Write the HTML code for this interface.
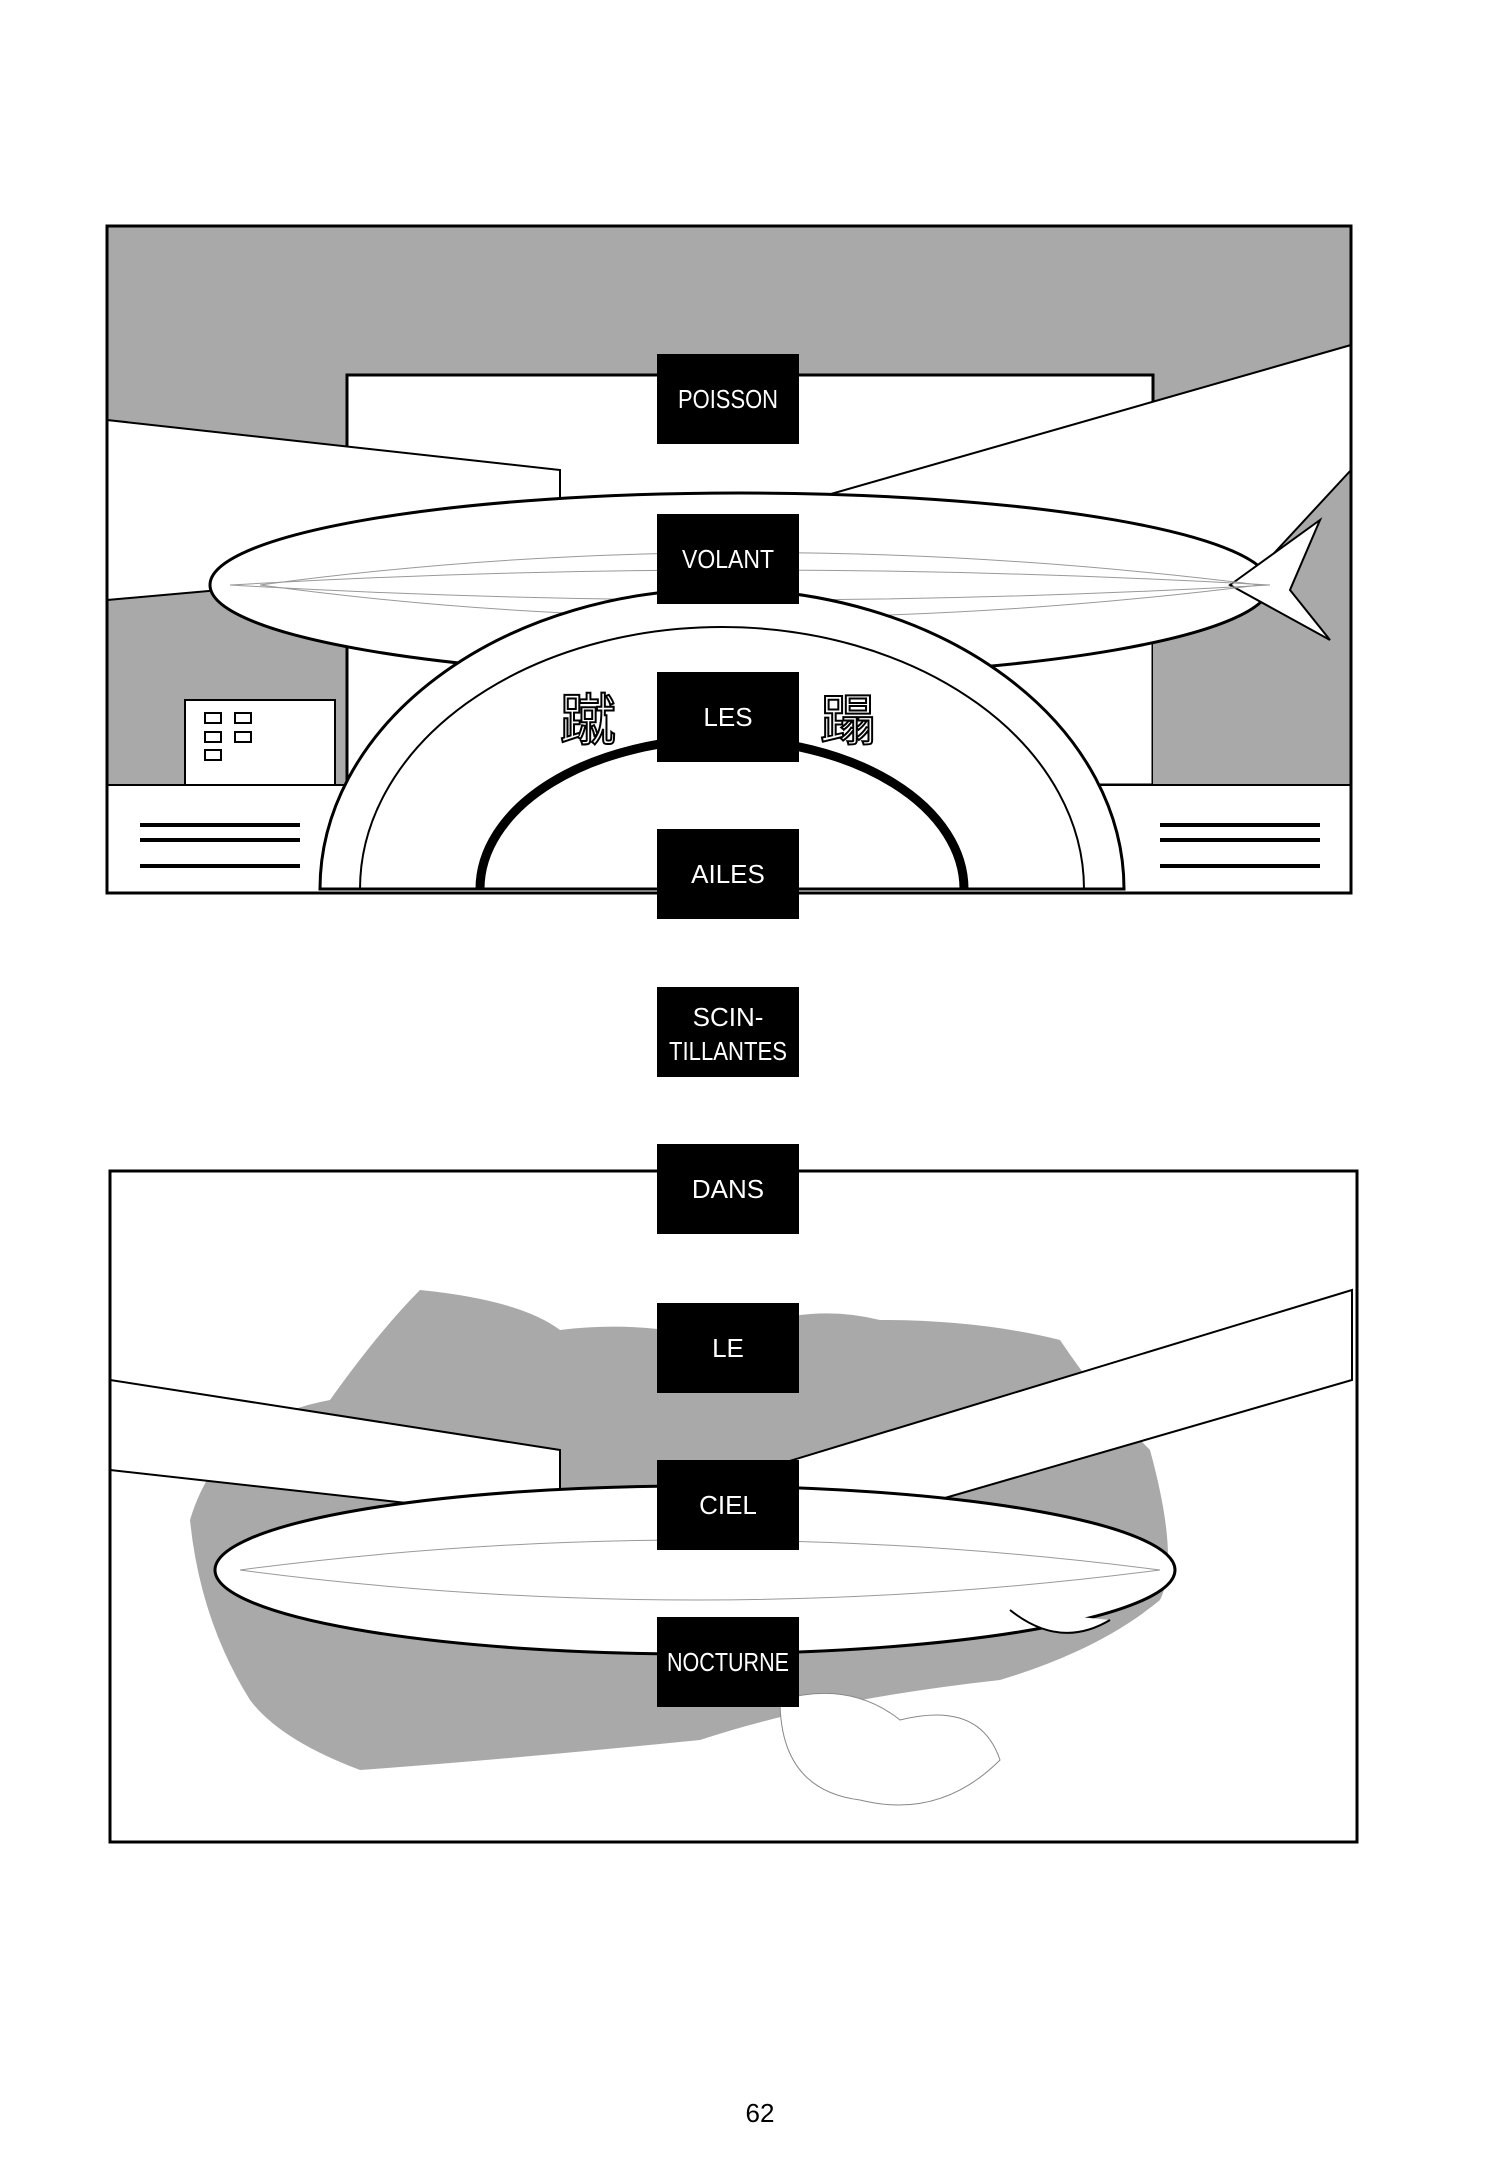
<!DOCTYPE html>
<html><head><meta charset="utf-8"><style>
html,body{margin:0;padding:0;background:#fff;}
svg{display:block}
text{font-family:"Liberation Sans","Noto Sans CJK JP",sans-serif;}
</style></head><body>
<svg width="1500" height="2160" viewBox="0 0 1500 2160" xmlns="http://www.w3.org/2000/svg">
<rect width="1500" height="2160" fill="#fff"/>
<!-- Panel 1 -->
<g>
<rect x="107" y="226" width="1244" height="667" fill="#a9a9a9"/>
<rect x="347" y="375" width="806" height="410" fill="#fff" stroke="#000" stroke-width="3"/>
<rect x="1153" y="560" width="198" height="225" fill="#a9a9a9"/>
<rect x="185" y="700" width="150" height="90" fill="#fff" stroke="#000" stroke-width="2"/>
<g fill="none" stroke="#000" stroke-width="2">
<rect x="205" y="713" width="16" height="10"/><rect x="235" y="713" width="16" height="10"/>
<rect x="205" y="732" width="16" height="10"/><rect x="235" y="732" width="16" height="10"/>
<rect x="205" y="750" width="16" height="10"/>
</g>
<!-- wings -->
<polygon points="107,420 560,470 560,560 107,600" fill="#fff" stroke="#000" stroke-width="2"/>
<polygon points="740,520 1351,345 1351,470 1240,590 760,620" fill="#fff" stroke="#000" stroke-width="2"/>
<!-- blimp -->
<ellipse cx="740" cy="585" rx="530" ry="92" fill="#fff" stroke="#000" stroke-width="3"/>
<polygon points="1230,585 1320,520 1290,590 1330,640" fill="#fff" stroke="#000" stroke-width="2"/>
<g stroke="#999" stroke-width="1" fill="none">
<path d="M260,585 Q740,520 1260,585"/><path d="M260,585 Q740,650 1260,585"/>
<path d="M230,585 Q740,555 1270,585"/><path d="M230,585 Q740,615 1270,585"/>
</g>
<!-- bottom strip -->
<rect x="107" y="785" width="1244" height="108" fill="#fff" stroke="#000" stroke-width="2"/>
<g stroke="#000" stroke-width="4">
<line x1="140" y1="825" x2="300" y2="825"/><line x1="140" y1="840" x2="300" y2="840"/>
<line x1="140" y1="866" x2="300" y2="866"/>
<line x1="1160" y1="825" x2="1320" y2="825"/><line x1="1160" y1="840" x2="1320" y2="840"/>
<line x1="1160" y1="866" x2="1320" y2="866"/>
</g>
<!-- arch -->
<path d="M320,889 A402,300 0 0 1 1124,889 Z" fill="#fff" stroke="#000" stroke-width="3"/>
<path d="M360,889 A362,262 0 0 1 1084,889" fill="none" stroke="#000" stroke-width="2"/>
<path d="M480,889 A242,150 0 0 1 964,889" fill="none" stroke="#000" stroke-width="9"/>
<text x="560" y="740" font-size="56" fill="none" stroke="#000" stroke-width="2">蹴</text>
<text x="820" y="740" font-size="56" fill="none" stroke="#000" stroke-width="2">蹋</text>
<rect x="107" y="226" width="1244" height="667" fill="none" stroke="#000" stroke-width="3"/>
</g>
<!-- Panel 2 -->
<g>
<rect x="110" y="1171" width="1247" height="671" fill="#fff"/>
<path d="M190,1520 Q220,1420 330,1400 Q380,1330 420,1290 Q520,1300 560,1330 Q640,1320 720,1340 Q800,1300 880,1320 Q980,1320 1060,1340 Q1100,1400 1150,1450 Q1180,1560 1160,1600 Q1100,1650 1000,1680 Q820,1700 700,1740 Q500,1760 360,1770 Q280,1740 250,1700 Q200,1620 190,1520 Z" fill="#a9a9a9"/>
<polygon points="110,1380 560,1450 560,1520 110,1470" fill="#fff" stroke="#000" stroke-width="2"/>
<polygon points="760,1470 1352,1290 1352,1380 800,1540" fill="#fff" stroke="#000" stroke-width="2"/>
<ellipse cx="695" cy="1570" rx="480" ry="84" fill="#fff" stroke="#000" stroke-width="3"/>
<g stroke="#999" stroke-width="1" fill="none">
<path d="M240,1570 Q695,1510 1160,1570"/><path d="M240,1570 Q695,1630 1160,1570"/>
</g>
<path d="M1010,1610 Q1060,1650 1110,1620" fill="#fff" stroke="#000" stroke-width="2"/>
<path d="M780,1700 Q850,1680 900,1720 Q980,1700 1000,1760 Q940,1820 860,1800 Q780,1790 780,1700 Z" fill="#fff" stroke="#888" stroke-width="1"/>
<rect x="110" y="1171" width="1247" height="671" fill="none" stroke="#000" stroke-width="3"/>
</g>
<!-- caption boxes -->
<g fill="#000">
<rect x="657" y="354" width="142" height="90"/>
<rect x="657" y="514" width="142" height="90"/>
<rect x="657" y="672" width="142" height="90"/>
<rect x="657" y="829" width="142" height="90"/>
<rect x="657" y="987" width="142" height="90"/>
<rect x="657" y="1144" width="142" height="90"/>
<rect x="657" y="1303" width="142" height="90"/>
<rect x="657" y="1460" width="142" height="90"/>
<rect x="657" y="1617" width="142" height="90"/>
</g>
<g fill="#fff" font-size="26" text-anchor="middle">
<text x="728" y="408" textLength="100" lengthAdjust="spacingAndGlyphs">POISSON</text>
<text x="728" y="568" textLength="92" lengthAdjust="spacingAndGlyphs">VOLANT</text>
<text x="728" y="726">LES</text>
<text x="728" y="883">AILES</text>
<text x="728" y="1026">SCIN-</text>
<text x="728" y="1060" textLength="118" lengthAdjust="spacingAndGlyphs">TILLANTES</text>
<text x="728" y="1198">DANS</text>
<text x="728" y="1357">LE</text>
<text x="728" y="1514">CIEL</text>
<text x="728" y="1671" textLength="122" lengthAdjust="spacingAndGlyphs">NOCTURNE</text>
</g>
<text x="760" y="2122" font-size="26" text-anchor="middle" fill="#000">62</text>
</svg>
</body></html>
